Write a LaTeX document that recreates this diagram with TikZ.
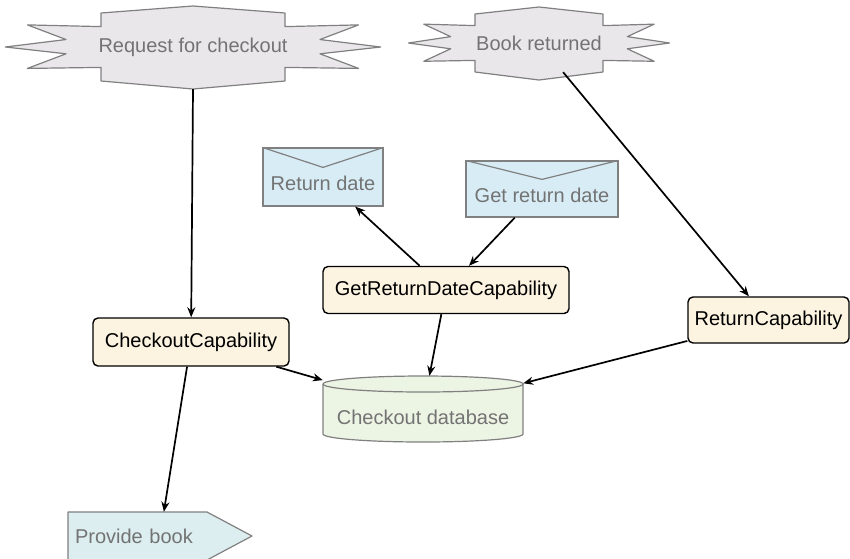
\documentclass[tikz,border=0pt]{standalone}
\usepackage{fontspec}
\setmainfont{Liberation Sans}
\usetikzlibrary{positioning, calc, arrows.meta}
\definecolor{BurstColor}{RGB}{234,231,235}
\definecolor{MsgColor}{RGB}{216,236,246}
\definecolor{CapColor}{RGB}{252,243,224}
\definecolor{DbColor}{RGB}{236,244,228}
\definecolor{OutColor}{RGB}{220,238,240}
\definecolor{EdgeGray}{RGB}{128,128,128}
\definecolor{TextGray}{RGB}{115,115,115}
\tikzstyle{arrow} = [line width=1.7pt, black, ->, >={Stealth[length=10pt, width=8pt]}]
\tikzstyle{capbox} = [draw, line width=1.4pt, rounded corners=5pt, fill=CapColor, inner sep=0pt]
\tikzstyle{msgbox} = [draw=EdgeGray, line width=1.2pt, fill=MsgColor, text=TextGray, text height=30pt, text depth=4pt]
\tikzstyle{grayshape} = [draw=EdgeGray, line width=1.2pt, line join=round]
\tikzstyle{shapetext} = [inner sep=0pt, text=TextGray]
% event burst: name, x, y, half width, half height, text
\newcommand{\burst}[6]{%
  \begin{scope}[shift={(#2,#3)}]
    \filldraw[grayshape, fill=BurstColor] (-#4,-#5) -- (0,-#5-7) -- (#4,-#5) -- (#4,-0.6*#5)
      -- (1.8*#4,-0.65*#5) -- (1.38*#4,-0.22*#5) -- (2.04*#4,0) -- (1.38*#4,0.2*#5)
      -- (1.8*#4,0.63*#5) -- (#4,0.6*#5) -- (#4,#5) -- (0,#5+8) -- (-#4,#5) -- (-#4,0.6*#5)
      -- (-1.8*#4,0.63*#5) -- (-1.38*#4,0.2*#5) -- (-2.04*#4,0) -- (-1.38*#4,-0.22*#5)
      -- (-1.8*#4,-0.65*#5) -- (-#4,-0.6*#5) -- cycle;
  \end{scope}
  \node[shapetext, minimum width=2*#4, minimum height=2*#5] (#1) at (#2,#3) {#6};
  \coordinate (#1-tip) at (#2,#3+#5+8);
}

\begin{document}
\begin{tikzpicture}[x=1pt, y=-1pt, font=\fontsize{20}{24}\selectfont]
        \useasboundingbox (0,0) rectangle (850,558);

        % Events
        \burst{req}{193}{47}{92}{34}{Request for checkout}
        \burst{ret}{539}{43}{64}{29}{Book returned}

        % Messages
        \node[msgbox, minimum width=120, minimum height=58] (rd) at (323,177) {Return date};
        \draw[grayshape] (rd.north west) -- ($(rd.north)+(0,20)$) -- (rd.north east);
        \node[msgbox, minimum width=152, minimum height=56] (grd) at (542,189) {Get return date};
        \draw[grayshape] (grd.north west) -- ($(grd.north)+(0,19)$) -- (grd.north east);

        % Capabilities
        \node[capbox, minimum width=246, minimum height=47] (grdc) at (446,290) {GetReturnDateCapability};
        \node[capbox, minimum width=196, minimum height=48] (cc) at (191,342) {CheckoutCapability};
        \node[capbox, minimum width=161, minimum height=46] (rc) at (768.5,320) {ReturnCapability};

        % Database
        \filldraw[grayshape, fill=DbColor] (323,384) -- (323,434)
          arc[start angle=180, end angle=360, x radius=100pt, y radius=8pt] -- (523,384)
          arc[start angle=0, end angle=180, x radius=100pt, y radius=8pt] -- cycle;
        \draw[grayshape] (323,384) arc[start angle=180, end angle=360, x radius=100pt, y radius=8pt];
        \node[shapetext, minimum width=200, minimum height=66, text height=35pt, text depth=5pt] (db) at (423,409) {Checkout database};

        % Output
        \filldraw[grayshape, fill=OutColor] (68,512) -- (207,512) -- (252,536) -- (207,560) -- (68,560) -- cycle;
        \node[shapetext, minimum width=184, minimum height=48, text width=170pt, inner xsep=7pt, align=left] (pb) at (160,536) {Provide book};

        % Flow
        \draw[arrow] (req-tip) -- (cc);
        \draw[arrow] (ret) -- (rc);
        \draw[arrow] (grdc) -- (rd);
        \draw[arrow] (grd) -- (grdc);
        \draw[arrow] (cc) -- (db);
        \draw[arrow] (grdc) -- (db);
        \draw[arrow] (rc) -- (db);
        \draw[arrow] (cc) -- (pb);

\end{tikzpicture}
\end{document}
